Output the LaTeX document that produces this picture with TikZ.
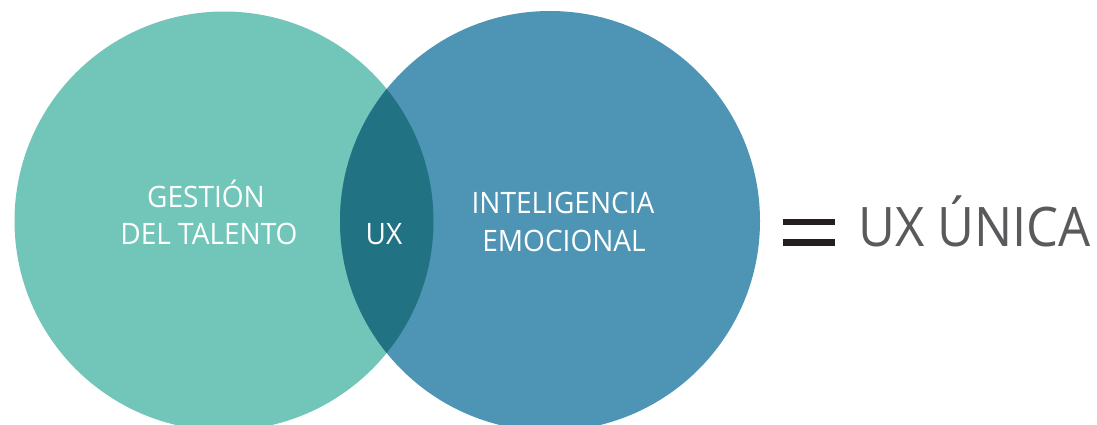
\documentclass[tikz,border=0pt]{standalone}
\usepackage{fontspec}
\setmainfont{Open Sans}
\newfontfamily\narrowA[FakeStretch=0.95]{Open Sans}
\newfontfamily\narrowB[FakeStretch=0.93]{Open Sans}
\definecolor{teal1}{HTML}{72C6B9}
\definecolor{blue1}{HTML}{4E95B5}
\definecolor{lens1}{HTML}{217283}
\definecolor{eqblack}{HTML}{231F20}
\definecolor{graytxt}{HTML}{5A5A5C}
\tikzset{
  intxt/.style={text=white, inner sep=0pt, anchor=base, font=\narrowA\fontsize{29.5}{29.5}\selectfont},
  bigtxt/.style={text=graytxt, inner sep=0pt, anchor=base west, font=\narrowB\fontsize{54.5}{54.5}\selectfont},
}
\begin{document}
\begin{tikzpicture}[x=1pt,y=-1pt]
\useasboundingbox (0,0) rectangle (1097,425);
\fill[white] (0,0) rectangle (1097,425);
\fill[teal1] (224,221) circle (209.5);
\fill[blue1] (550,221) circle (210);
\begin{scope}
  \clip (224,221) circle (209.5);
  \fill[lens1] (550,221) circle (210);
\end{scope}
\node[intxt] (g1) at (206,207.5) {GESTIÓN};
\node[intxt] (g2) at (209,244) {DEL TALENTO};
\node[intxt] (ux) at (384,244) {UX};
\node[intxt] (i1) at (563,213) {INTELIGENCIA};
\node[intxt] (i2) at (564,251.5) {EMOCIONAL};
\fill[eqblack] (782.7,218.5) rectangle (835,225);
\fill[eqblack] (782.7,239) rectangle (835,245.5);
\node[bigtxt] (res) at (858,246) {UX ÚNICA};
\end{tikzpicture}
\end{document}
